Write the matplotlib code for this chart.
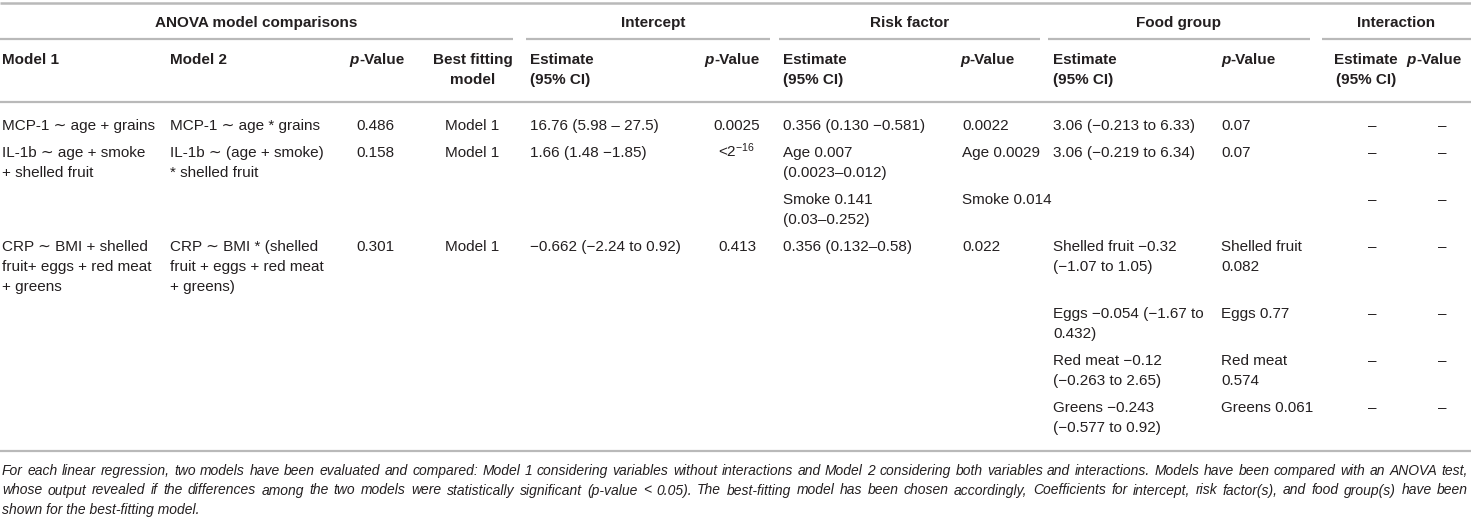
import matplotlib
matplotlib.use('Agg')
import matplotlib.pyplot as plt
from matplotlib import font_manager

# ---- table content ----
group_labels = ["ANOVA model comparisons", "Intercept", "Risk factor", "Food group", "Interaction"]

model_1 = ["MCP-1 \u223c age + grains",
           "IL-1b \u223c age + smoke\n+ shelled fruit", "",
           "CRP \u223c BMI + shelled\nfruit+ eggs + red meat\n+ greens", "", "", ""]
model_2 = ["MCP-1 \u223c age * grains",
           "IL-1b \u223c (age + smoke)\n* shelled fruit", "",
           "CRP \u223c BMI * (shelled\nfruit + eggs + red meat\n+ greens)", "", "", ""]
anova_p = ["0.486", "0.158", "", "0.301", "", "", ""]
best_model = ["Model 1", "Model 1", "", "Model 1", "", "", ""]
intercept_est = ["16.76 (5.98 \u2013 27.5)", "1.66 (1.48 \u22121.85)", "",
                 "\u22120.662 (\u22122.24 to 0.92)", "", "", ""]
intercept_p = ["0.0025", r"<2$^{-16}$", "", "0.413", "", "", ""]
risk_est = ["0.356 (0.130 \u22120.581)", "Age 0.007\n(0.0023\u20130.012)",
            "Smoke 0.141\n(0.03\u20130.252)", "0.356 (0.132\u20130.58)", "", "", ""]
risk_p = ["0.0022", "Age 0.0029", "Smoke 0.014", "0.022", "", "", ""]
food_est = ["3.06 (\u22120.213 to 6.33)", "3.06 (\u22120.219 to 6.34)", "",
            "Shelled fruit \u22120.32\n(\u22121.07 to 1.05)",
            "Eggs \u22120.054 (\u22121.67 to\n0.432)",
            "Red meat \u22120.12\n(\u22120.263 to 2.65)",
            "Greens \u22120.243\n(\u22120.577 to 0.92)"]
food_p = ["0.07", "0.07", "", "Shelled fruit\n0.082", "Eggs 0.77", "Red meat\n0.574", "Greens 0.061"]
interaction_est = ["\u2013"] * 7
interaction_p = ["\u2013"] * 7

caption_lines = [
    "For each linear regression, two models have been evaluated and compared: Model 1 considering variables "
    "without interactions and Model 2 considering both variables and interactions. Models have been compared "
    "with an ANOVA test,",
    "whose output revealed if the differences among the two models were statistically significant (p-value < 0.05). "
    "The best-fitting model has been chosen accordingly, Coefficients for intercept, risk factor(s), and food "
    "group(s) have been",
    "shown for the best-fitting model.",
]

# ---- style ----
FONT = ['Liberation Sans', 'DejaVu Sans']
TXT = '#231f20'
RULE = '#b9b9b9'
FS = 11
LINE_H = 20

plt.rcParams['font.family'] = FONT
plt.rcParams['mathtext.fontset'] = 'custom'
plt.rcParams['mathtext.rm'] = 'Liberation Sans'
plt.rcParams['mathtext.it'] = 'Liberation Sans:italic'
plt.rcParams['mathtext.bf'] = 'Liberation Sans:bold'

fig = plt.figure(figsize=(14.71, 5.21), dpi=100)
fig.patch.set_facecolor('white')
ax = fig.add_axes([0, 0, 1, 1])
ax.set_xlim(0, 1471)
ax.set_ylim(521, 0)
ax.axis('off')
renderer = fig.canvas.get_renderer()


def text_width(s, **kw):
    t = ax.text(0, 0, s, fontsize=kw.get('fontsize', FS), fontweight=kw.get('fontweight', 'normal'),
                fontstyle=kw.get('fontstyle', 'normal'), family=kw.get('family', FONT))
    bb = t.get_window_extent(renderer=renderer)
    t.remove()
    return bb.width


def put(x, y, s, ha='left', bold=False):
    """Draw a possibly multi-line cell, y = visual centre of first line"""
    for i, line in enumerate(s.split('\n')):
        ax.text(x, y + i * LINE_H + 5, line, ha=ha, va='baseline', fontsize=FS, color=TXT,
                fontweight='bold' if bold else 'normal')


def put_pvalue(x, y, ha='left'):
    """'p-Value' header with a bold italic p"""
    w1 = text_width('p', fontweight='bold', fontstyle='italic')
    w2 = text_width('-Value', fontweight='bold')
    x0 = x - (w1 + w2) / 2 if ha == 'center' else x
    ax.text(x0, y + 5, 'p', fontsize=FS, color=TXT, fontweight='bold', fontstyle='italic', va='baseline')
    ax.text(x0 + w1, y + 5, '-Value', fontsize=FS, color=TXT, fontweight='bold', va='baseline')


def rule(x0, x1, y, lw=1.6):
    ax.plot([x0, x1], [y, y], color=RULE, lw=lw, solid_capstyle='butt')


# ---- rules ----
rule(0, 1471, 3, lw=1.8)
group_spans = [(0, 513), (526, 770), (779, 1040), (1048, 1310), (1322, 1471)]
for (a, b), lab in zip(group_spans, group_labels):
    rule(a, b, 39)
    put((a + b) / 2 + (5 if lab == "Intercept" else 0), 22, lab, ha='center', bold=True)
rule(0, 1471, 102)

# ---- column headers ----
put(2, 59, "Model 1", bold=True)
put(170, 59, "Model 2", bold=True)
put_pvalue(377, 59, ha='center')
put(473, 59, "Best fitting\nmodel", ha='center', bold=True)
put(530, 59, "Estimate\n(95% CI)", bold=True)
put_pvalue(732, 59, ha='center')
put(783, 59, "Estimate\n(95% CI)", bold=True)
put_pvalue(960, 59)
put(1053, 59, "Estimate\n(95% CI)", bold=True)
put_pvalue(1221, 59)
put(1366, 59, "Estimate\n(95% CI)", ha='center', bold=True)
put_pvalue(1434, 59, ha='center')

# ---- body ----
columns = [
    (model_1, 2, 'left'), (model_2, 170, 'left'), (anova_p, 375, 'center'),
    (best_model, 472, 'center'), (intercept_est, 530, 'left'), (intercept_p, 737, 'center'),
    (risk_est, 783, 'left'), (risk_p, 962, 'left'), (food_est, 1053, 'left'),
    (food_p, 1221, 'left'), (interaction_est, 1372, 'center'), (interaction_p, 1442, 'center'),
]
n_sub = len(model_1)
y = 125
for k in range(n_sub):
    nlines = max(len(col[k].split('\n')) for col, _, _ in columns)
    for col, x, ha in columns:
        if col[k]:
            put(x, y, col[k], ha=ha)
    y += nlines * LINE_H + 7
bottom = y - 3
rule(0, 1471, bottom)

# ---- caption (justified, italic) ----
names = {f.name for f in font_manager.fontManager.ttflist}
cap_family = ['Liberation Sans Narrow', 'DejaVu Sans'] if 'Liberation Sans Narrow' in names else FONT
cap_fs = 11.0
left, right = 2, 1468
while True:
    widest = max(text_width(l, fontsize=cap_fs, fontstyle='italic', family=cap_family) for l in caption_lines[:2])
    if widest <= right - left - 10 or cap_fs < 6:
        break
    cap_fs -= 0.25

cap_y = bottom + 19
for i, line in enumerate(caption_lines):
    yy = cap_y + i * 19.5 + 5
    words = line.split(' ')
    if i < len(caption_lines) - 1:
        widths = [text_width(w, fontsize=cap_fs, fontstyle='italic', family=cap_family) for w in words]
        gap = (right - left - sum(widths)) / (len(words) - 1)
        xx = left
        for w, wd in zip(words, widths):
            ax.text(xx, yy, w, fontsize=cap_fs, fontstyle='italic', family=cap_family, color=TXT, va='baseline')
            xx += wd + gap
    else:
        ax.text(left, yy, line, fontsize=cap_fs, fontstyle='italic', family=cap_family, color=TXT, va='baseline')

fig.savefig('out.png', dpi=100, facecolor='white')
plt.close(fig)
